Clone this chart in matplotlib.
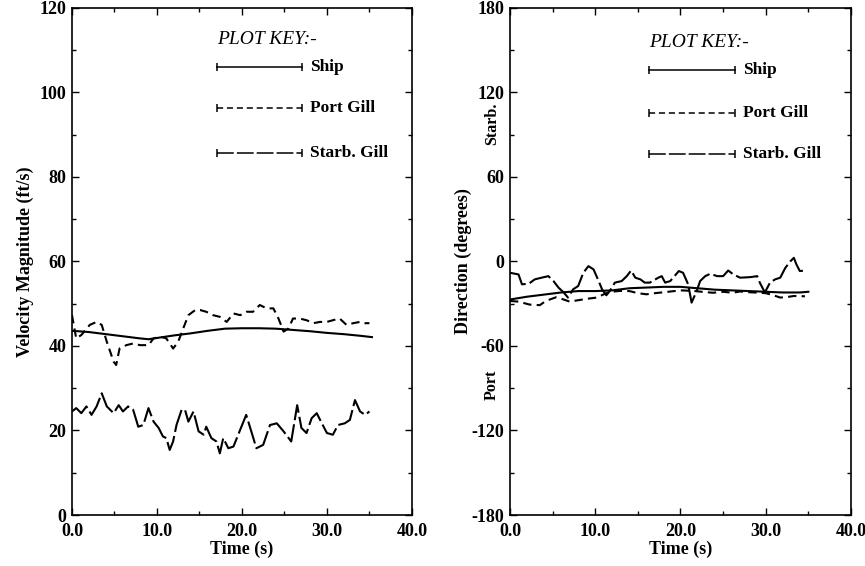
import matplotlib
matplotlib.use("Agg")
import matplotlib.pyplot as plt
from matplotlib.ticker import MultipleLocator, FormatStrFormatter

# ---- velocity magnitude (ft/s) ----
ship_t = [0, 2, 4, 6, 8, 9, 10, 12, 14, 16, 18, 20, 22, 24, 26, 28, 30, 32, 34, 35.3]
ship_v = [43.6, 43.3, 42.8, 42.3, 41.8, 41.6, 41.9, 42.5, 43.0, 43.6, 44.1, 44.2,
          44.2, 44.1, 43.8, 43.5, 43.1, 42.8, 42.4, 42.1]

port_t = [0, 0.5, 1.1, 2.1, 2.9, 3.5, 4.1, 4.9, 5.2, 5.6, 6.4, 7.2, 8.0, 9.0, 9.6,
          10.4, 11.1, 11.9, 12.5, 13.1, 13.7, 14.5, 15.1, 15.8, 16.6, 17.4, 18.2,
          19.0, 19.8, 20.5, 21.3, 22.1, 22.9, 23.7, 24.3, 24.9, 25.5, 26.0, 26.8,
          27.6, 28.4, 29.2, 30.0, 30.7, 31.5, 32.3, 33.1, 33.9, 34.5, 35.0]
port_v = [47.3, 41.8, 42.6, 45.0, 45.7, 45.0, 41.0, 36.3, 35.5, 39.4, 40.2, 40.6,
          40.2, 40.2, 41.8, 42.2, 41.8, 39.4, 41.0, 44.2, 47.3, 48.5, 48.5, 48.1,
          47.3, 46.9, 45.7, 47.7, 47.3, 48.1, 48.1, 49.7, 48.9, 48.9, 46.5, 43.4,
          44.2, 46.5, 46.5, 46.1, 45.4, 45.7, 45.7, 46.1, 46.5, 45.0, 45.4, 45.7,
          45.4, 45.4]

starb_t = [0, 0.5, 1.1, 1.7, 2.3, 2.9, 3.5, 4.1, 4.9, 5.5, 6.0, 6.6, 7.2, 7.8, 8.4,
           9.0, 9.6, 10.2, 10.7, 11.1, 11.5, 11.9, 12.3, 12.9, 13.3, 13.7, 14.3,
           14.9, 15.5, 15.8, 16.4, 17.0, 17.4, 17.8, 18.4, 19.0, 19.8, 20.5, 21.1,
           21.7, 22.5, 23.3, 24.1, 24.9, 25.8, 26.5, 27.0, 27.6, 28.2, 28.8, 29.4,
           30.0, 30.7, 31.3, 32.1, 32.7, 33.3, 33.9, 34.5, 35.0]
starb_v = [24.5, 25.3, 24.1, 25.7, 23.7, 25.7, 28.8, 25.7, 24.1, 26.0, 24.5, 25.7,
           24.9, 20.9, 21.3, 25.3, 22.1, 20.6, 18.6, 18.2, 15.4, 17.4, 21.3, 24.9,
           24.9, 22.1, 24.5, 19.8, 19.0, 20.9, 18.2, 17.4, 14.6, 18.2, 15.8, 16.2,
           20.2, 23.7, 19.8, 15.8, 16.6, 21.3, 21.7, 19.8, 17.4, 26.0, 20.6, 19.4,
           22.9, 24.1, 21.7, 19.4, 19.0, 21.3, 21.7, 22.5, 27.2, 24.5, 23.7, 24.5]

# ---- direction (degrees) ----
dship_t = [0, 2, 4, 6, 8, 10, 12, 14, 16, 18, 20, 22, 24, 26, 28, 30, 32, 34, 35]
dship_v = [-27, -25, -23.5, -22, -21, -21, -20.5, -19, -18.5, -18, -18, -19, -20,
           -20.5, -21, -21.5, -22, -22, -21.5]

dport_t = [0, 1, 2.3, 3.5, 4.2, 5.4, 6.3, 7.0, 8.0, 9.0, 10.2, 11.0, 11.7, 12.9, 14,
           15, 16, 17, 18.4, 20, 21.5, 22.5, 23.8, 25, 26.1, 27, 28, 29.2, 30, 30.8,
           31.7, 32.3, 33.3, 34.6]
dport_v = [-28, -28.5, -30.6, -31, -28, -25.4, -27, -28.5, -27.5, -26.5, -25.6, -23.3,
           -21.6, -20.9, -21, -22.5, -23.3, -22.5, -21.6, -20.5, -20.9, -21.5, -22.2,
           -21.5, -22.2, -21.3, -21.8, -22.2, -22.5, -23.8, -25.6, -25.4, -24.5, -24.7]

dstarb_t = [0, 1.0, 1.4, 2.2, 2.9, 3.7, 4.5, 5.1, 5.7, 6.3, 6.8, 7.4, 8.0, 8.6, 9.2,
            9.8, 10.4, 10.8, 11.3, 11.7, 12.3, 13.1, 13.7, 14.2, 14.7, 15.3, 15.8,
            16.4, 17.4, 17.8, 18.2, 18.8, 19.8, 20.3, 20.9, 21.3, 21.9, 22.3, 22.9,
            23.5, 24.3, 25.0, 25.6, 26.2, 27.0, 28.2, 29.0, 29.3, 29.9, 30.5, 31.1,
            31.7, 32.3, 32.9, 33.3, 33.6, 34.0, 34.6, 34.8]
dstarb_v = [-8, -9.2, -16.2, -15.8, -12.7, -11.5, -10.4, -13.9, -18.6, -22, -25.6,
            -19.8, -17.4, -8, -3.3, -5.6, -13.9, -19.8, -24, -21, -15, -13.9, -10.4,
            -6.4, -11.5, -12.7, -15, -15, -11.5, -10.4, -15, -13.9, -6.8, -8, -16.2,
            -29.2, -21, -13.9, -10.4, -8.7, -10.4, -10.4, -6.4, -9.2, -11.5, -11.1,
            -10.4, -15, -22, -15, -12.7, -11.5, -4.5, 0.2, 2.6, -2.1, -6.8, -6.4, -6.8]

key_names = ["Ship", "Port Gill", "Starb. Gill"]
styles = ["-", (0, (4, 2.5)), (0, (11, 2))]

plt.rcParams["font.family"] = ["Liberation Serif", "DejaVu Serif"]
plt.rcParams["font.weight"] = "bold"
plt.rcParams["axes.labelweight"] = "bold"
plt.rcParams["axes.unicode_minus"] = False

fig = plt.figure(figsize=(8.65, 5.66), dpi=100)
ax1 = fig.add_axes([0.0832, 0.0901, 0.393, 0.8958])
ax2 = fig.add_axes([0.5896, 0.0901, 0.3942, 0.8958])

lw = 1.5
fs = 13
for ax in (ax1, ax2):
    ax.set_xlim(0, 40)
    ax.xaxis.set_major_locator(MultipleLocator(10))
    ax.xaxis.set_minor_locator(MultipleLocator(5))
    ax.xaxis.set_major_formatter(FormatStrFormatter("%.1f"))
    ax.tick_params(which="both", direction="in", top=True, right=True,
                   labelsize=fs, width=1.0, pad=4)
    ax.tick_params(axis="x", which="major", pad=6)
    ax.tick_params(which="major", length=5)
    ax.tick_params(which="minor", length=3)
    for s in ax.spines.values():
        s.set_linewidth(1.2)
    ax.set_xlabel("Time (s)", fontsize=fs, labelpad=0)

ax1.set_ylim(0, 120)
ax1.yaxis.set_major_locator(MultipleLocator(20))
ax1.yaxis.set_minor_locator(MultipleLocator(10))
ax1.set_ylabel("Velocity Magnitude (ft/s)", fontsize=fs, labelpad=4)

ax2.set_ylim(-180, 180)
ax2.yaxis.set_major_locator(MultipleLocator(60))
ax2.yaxis.set_minor_locator(MultipleLocator(30))
ax2.set_ylabel("Direction (degrees)", fontsize=fs, labelpad=0)
ax2.text(-0.053, 0.772, "Starb.", transform=ax2.transAxes, rotation=90,
         ha="center", va="center", fontsize=11.5)
ax2.text(-0.053, 0.256, "Port", transform=ax2.transAxes, rotation=90,
         ha="center", va="center", fontsize=11.5)

ax1.plot(ship_t, ship_v, color="k", lw=lw, ls=styles[0])
ax1.plot(port_t, port_v, color="k", lw=lw, ls=styles[1])
ax1.plot(starb_t, starb_v, color="k", lw=lw, ls=styles[2])

ax2.plot(dship_t, dship_v, color="k", lw=lw, ls=styles[0])
ax2.plot(dport_t, dport_v, color="k", lw=lw, ls=styles[1])
ax2.plot(dstarb_t, dstarb_v, color="k", lw=lw, ls=styles[2])

# hand-drawn plot key
def plot_key(ax, x0, x1, xt, ys, ytitle):
    ax.text(x0, ytitle, "PLOT KEY:-", transform=ax.transAxes, style="italic",
            fontweight="normal", fontsize=14, ha="left", va="center")
    for name, st, y in zip(key_names, styles, ys):
        ax.plot([x0, x1], [y, y], transform=ax.transAxes, color="k", lw=1.1, ls=st)
        ax.plot([x0, x1], [y, y], transform=ax.transAxes, color="k", lw=0,
                marker="|", ms=6, mew=1.1)
        ax.text(xt, y, name, transform=ax.transAxes, fontsize=12.5,
                ha="left", va="center")

plot_key(ax1, 0.426, 0.676, 0.70, [0.884, 0.803, 0.714], 0.937)
plot_key(ax2, 0.408, 0.66, 0.683, [0.878, 0.793, 0.712], 0.931)

fig.savefig("out.png", dpi=100)
